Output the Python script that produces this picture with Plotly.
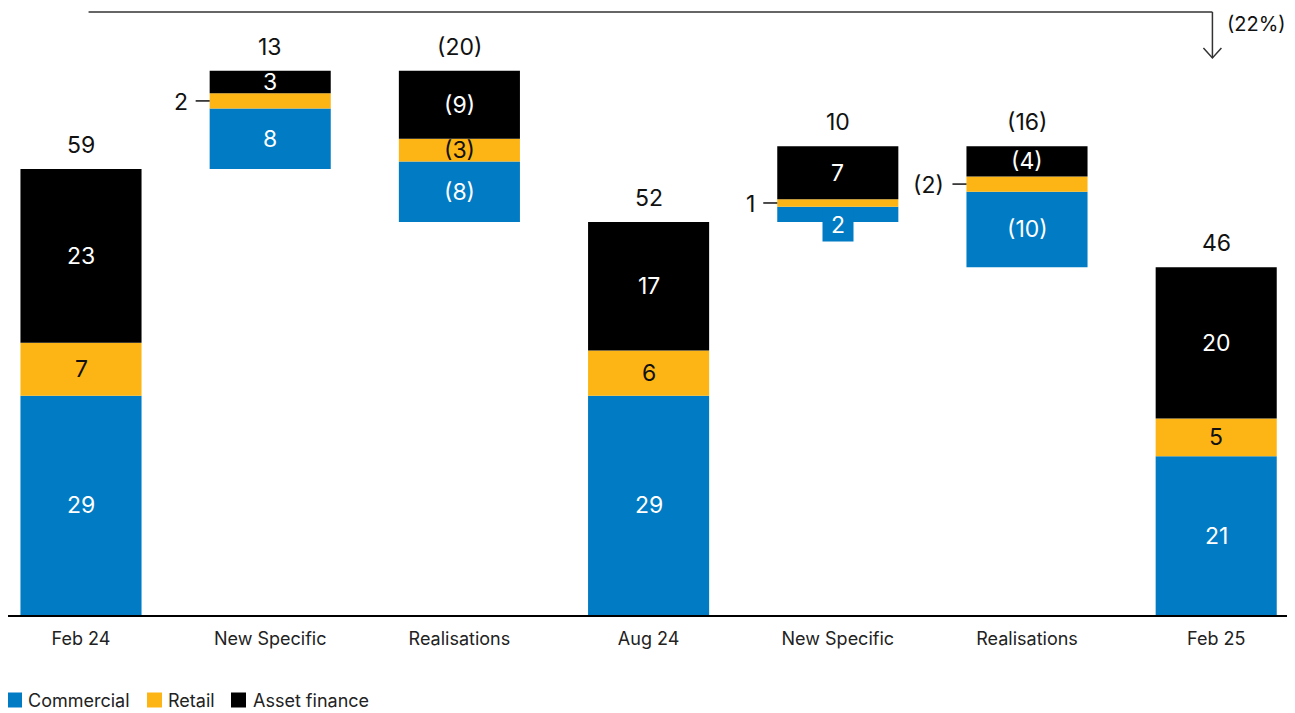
import plotly.graph_objects as go

# data
categories = ["Feb 24", "New Specific", "Realisations", "Aug 24",
              "New Specific", "Realisations", "Feb 25"]
is_total = [True, False, False, True, False, False, True]
commercial = [29, 8, -8, 29, 2, -10, 21]
retail = [7, 2, -3, 6, 1, -2, 5]
asset_finance = [23, 3, -9, 17, 7, -4, 20]
totals = [59, 13, -20, 52, 10, -16, 46]
change_label = "(22%)"

FONT = "Inter"
BAR_W = 0.64
W, H = 1287, 705
PLOT_H = 607

series = [
    ("Commercial", commercial, "#007BC4", "white"),
    ("Retail", retail, "#FDB515", "#111111"),
    ("Asset finance", asset_finance, "#000000", "white"),
]


def fmt(v):
    return f"({abs(v)})" if v < 0 else str(v)


# running level -> bottom of each column
bottoms = []
level = 0
for tot_flag, tot in zip(is_total, totals):
    if tot_flag:
        bottoms.append(0)
        level = tot
    else:
        bottoms.append(min(level, level + tot))
        level += tot

xs = list(range(len(categories)))
fig = go.Figure()
annotations = []
shapes = []

stack = list(bottoms)
for name, vals, color, txt_color in series:
    heights = [abs(v) for v in vals]
    fig.add_trace(go.Bar(
        x=xs, y=heights, base=list(stack), width=BAR_W,
        marker=dict(color=color, line=dict(width=0)),
        name=name, hoverinfo="skip", showlegend=False,
    ))
    for i, v in enumerate(vals):
        lo = stack[i]
        hi = lo + abs(v)
        if abs(v) <= 2 and name == "Retail":
            # small segment: label outside with a leader dash
            x_edge = i - BAR_W / 2
            shapes.append(dict(type="line", xref="x", yref="y",
                               x0=x_edge - 0.074, x1=x_edge,
                               y0=(lo + hi) / 2, y1=(lo + hi) / 2,
                               line=dict(color="#111111", width=1.5)))
            annotations.append(dict(x=x_edge - 0.074, y=(lo + hi) / 2,
                                    xref="x", yref="y", text=fmt(v),
                                    showarrow=False, xanchor="right",
                                    xshift=-6, yshift=-1,
                                    font=dict(size=23, color="#111111")))
        elif abs(v) <= 2:
            # small segment: label in a tab hanging below the segment
            annotations.append(dict(x=i, y=hi, xref="x", yref="y",
                                    text=fmt(v), showarrow=False,
                                    yanchor="top", width=30, height=33,
                                    bgcolor=color, borderpad=0,
                                    font=dict(size=23, color=txt_color)))
        else:
            annotations.append(dict(x=i, y=(lo + hi) / 2, xref="x", yref="y",
                                    text=fmt(v), showarrow=False,
                                    font=dict(size=23, color=txt_color)))
        stack[i] = hi

# totals above each column
for i, tot in enumerate(totals):
    annotations.append(dict(x=i, y=stack[i], xref="x", yref="y",
                            text=fmt(tot), showarrow=False,
                            yanchor="bottom", yshift=8,
                            font=dict(size=23, color="#111111")))

# change bracket from first to last column
top_y = 1 - 4 / PLOT_H
tip_y = 1 - 50 / PLOT_H
x_end = xs[-1] - 0.02
shapes.append(dict(type="line", xref="x", yref="paper",
                   x0=0.04, x1=x_end, y0=top_y, y1=top_y,
                   line=dict(color="#333333", width=1.5)))
shapes.append(dict(type="line", xref="x", yref="paper",
                   x0=x_end, x1=x_end, y0=top_y, y1=tip_y,
                   line=dict(color="#333333", width=1.5)))
shapes.append(dict(type="path", xref="x", yref="paper",
                   xsizemode="pixel", ysizemode="pixel",
                   xanchor=x_end, yanchor=tip_y,
                   path="M-9,10 L0,0 L9,10",
                   line=dict(color="#333333", width=1.5)))
annotations.append(dict(x=xs[-1], y=top_y, xref="x", yref="paper",
                        text=change_label, showarrow=False,
                        xanchor="left", yanchor="middle",
                        xshift=9, yshift=-12,
                        font=dict(size=20, color="#111111")))

# legend drawn as squares + labels below the axis
legend_y = -(692 - PLOT_H) / PLOT_H
legend_sq_x = [-1, 139, 223]
legend_txt_x = [18, 158, 243]
for (name, _, color, _), sx, tx in zip(series, legend_sq_x, legend_txt_x):
    shapes.append(dict(type="rect", xref="paper", yref="paper",
                       xsizemode="pixel", ysizemode="pixel",
                       xanchor=0, yanchor=legend_y,
                       x0=sx, x1=sx + 15, y0=-7.5, y1=7.5,
                       fillcolor=color, line=dict(width=0)))
    annotations.append(dict(x=0, y=legend_y, xref="paper", yref="paper",
                            text=name, showarrow=False,
                            xanchor="left", yanchor="middle", xshift=tx,
                            font=dict(size=18, color="#222222")))

fig.update_layout(
    width=W, height=H,
    barmode="overlay",
    plot_bgcolor="white", paper_bgcolor="white",
    margin=dict(l=0, r=0, t=0, b=H - PLOT_H),
    font=dict(family=FONT, color="#222222"),
    xaxis=dict(
        range=[-73 / 189.2, (W - 73) / 189.2],
        tickmode="array", tickvals=xs, ticktext=categories,
        showgrid=False, zeroline=False,
        showline=True, linecolor="#000000", linewidth=2,
        ticks="outside", ticklen=6, tickcolor="rgba(0,0,0,0)",
        tickfont=dict(size=18, color="#222222"),
        fixedrange=True,
    ),
    yaxis=dict(
        range=[0, PLOT_H / 7.56], visible=False, fixedrange=True,
    ),
    showlegend=False,
    annotations=annotations,
    shapes=shapes,
)

fig.write_html("out.html")
